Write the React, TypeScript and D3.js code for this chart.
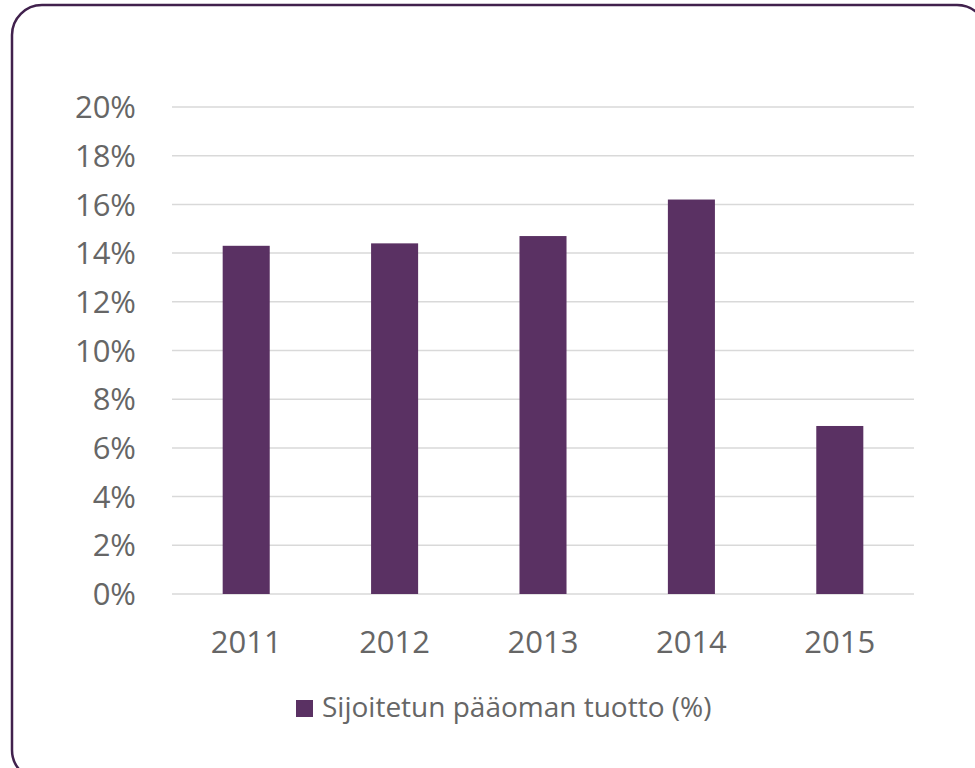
import React from 'react';
import * as d3 from 'd3';

const years = ['2011', '2012', '2013', '2014', '2015'];
const returns = [14.3, 14.4, 14.7, 16.2, 6.9];
const yTicks = [0, 2, 4, 6, 8, 10, 12, 14, 16, 18, 20];
const seriesName = 'Sijoitetun pääoman tuotto (%)';

const W = 975;
const H = 768;
const margin = { top: 107, right: 61, bottom: 174, left: 172 };
const barColor = '#5a3163';
const textColor = '#666666';
const font = '"Open Sans", "Liberation Sans", sans-serif';

const App: React.FC = () => {
  const x = d3.scaleBand<string>()
    .domain(years)
    .range([margin.left, W - margin.right])
    .paddingInner(0.683)
    .paddingOuter(0.3415);

  const y = d3.scaleLinear()
    .domain([0, 20])
    .range([H - margin.bottom, margin.top]);

  return (
    <svg width={W} height={H} style={{ position: 'absolute', left: 0, top: 0, background: '#fff' }}>
      <rect x={12} y={5} width={975} height={775} rx={30} ry={30}
        fill="#fff" stroke="#41214d" strokeWidth={2.5} />

      {/* gridlines */}
      {yTicks.map(t => (
        <line key={'g' + t} x1={margin.left} x2={W - margin.right} y1={y(t)} y2={y(t)}
          stroke="#d9d9d9" strokeWidth={1.5} />
      ))}

      {/* y labels */}
      {yTicks.map(t => (
        <text key={'t' + t} x={136} y={y(t)} dy="0.36em" textAnchor="end"
          fontFamily={font} fontSize={31} fill={textColor}>{t}%</text>
      ))}

      {/* bars */}
      {years.map((yr, i) => (
        <rect key={yr} x={x(yr)} y={y(returns[i])} width={x.bandwidth()}
          height={y(0) - y(returns[i])} fill={barColor} />
      ))}

      {/* x labels */}
      {years.map(yr => (
        <text key={'x' + yr} x={(x(yr) ?? 0) + x.bandwidth() / 2} y={653} textAnchor="middle"
          fontFamily={font} fontSize={31} fill={textColor}>{yr}</text>
      ))}

      {/* legend */}
      <rect x={296} y={700} width={17} height={17} fill={barColor} />
      <text x={322} y={717} fontFamily={font} fontSize={28} fill={textColor}>{seriesName}</text>
    </svg>
  );
};

export default App;
